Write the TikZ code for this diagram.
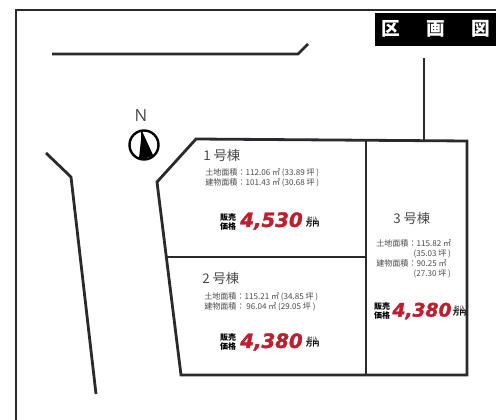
\documentclass[tikz,border=0pt]{standalone}
\usepackage{fontspec}
\setmainfont{Open Sans}
\newfontfamily\jp{Noto Sans CJK JP}
\newfontfamily\priceface[FakeBold=1.6]{DejaVu Sans Bold Oblique}
\definecolor{ink}{HTML}{2A2A2E}
\definecolor{txt}{HTML}{4A4A4A}
\definecolor{pricered}{HTML}{BE1E2D}
\tikzset{
  px/.style={x=0.75pt,y=-0.75pt},
  wall/.style={draw=ink,line width=2.1pt,line join=miter},
  road/.style={draw=ink,line width=2.1pt},
  plotname/.style={font=\jp\fontsize{10}{11}\selectfont,text=txt,inner sep=0pt,anchor=west},
  areatext/.style={font=\jp\fontsize{6.05}{7.6}\selectfont,text=txt,inner sep=0pt,anchor=west,align=left},
  price/.style={font=\priceface\fontsize{14.8}{16}\selectfont,text=pricered,inner sep=0pt},
  pricesmall/.style={font=\priceface\fontsize{14}{16}\selectfont,text=pricered,inner sep=0pt},
  sale/.style={font=\jp\bfseries\fontsize{6}{6.6}\selectfont,text=black,inner sep=0pt,align=center},
  unitb/.style={font=\jp\fontsize{4}{4.6}\selectfont,text=black,inner sep=0pt,align=center},
  title/.style={font=\jp\bfseries\fontsize{14}{16}\selectfont,text=white,inner sep=0pt},
}
\newcommand{\saletxt}{販売\\[-.5pt]価格}
\newcommand{\unittxt}{税込\\[-.5pt]{\fontsize{5}{5}\selectfont\bfseries 万円}}
\begin{document}
\begin{tikzpicture}[px]
\useasboundingbox (0,0) rectangle (496,420);
\fill[white] (0,0) rectangle (496,420);
% frame
\coordinate (fa) at (16,420); \coordinate (fb) at (16,10); \coordinate (fc) at (496,10);
\draw[ink,line width=1.7pt] (fa) -- (fb) -- (fc);
% title
\fill[black] (375,13) rectangle (496,46);
\node[title] (t1) at (391,29) {区};
\node[title] (t2) at (436,29) {画};
\node[title] (t3) at (481,29) {図};
% roads
\draw[road] (52,54) -- (298,54) -- (308,44);
\draw[road] (46,153) -- (71,177) -- (96,394);
\draw[road] (424,58) -- (424,140);
% plots
\draw[wall] (196,139) -- (467,141) -- (467,375) -- (181,375) -- (157,182) -- cycle;
\draw[wall] (366,140) -- (366,375);
\draw[wall] (166,257) -- (366,257);
% compass
\node[font=\fontsize{12.5}{14}\selectfont,text=txt,inner sep=0pt] (north) at (141,116) {N};
\draw[black,line width=1.8pt] (144,145) circle (14.5);
\draw[black,line width=.5pt] (141,131) -- (141,159);
\fill[black] (142,131) -- (153,155) .. controls (149,158) and (144,159) .. (139,158) -- cycle;
% plot 1
\node[plotname] (n1) at (203,155) {1 号棟};
\node[areatext] (a1) at (205,178) {土地面積：112.06 ㎡ (33.89 坪 )\\建物面積：101.43 ㎡ (30.68 坪 )};
\node[sale] (s1) at (228,222) {\saletxt};
\node[price] (p1) at (271.5,221) {4,530};
\node[unitb] (u1) at (312.5,222) {\unittxt};
% plot 2
\node[plotname] (n2) at (202,278) {2 号棟};
\node[areatext] (a2) at (204,302) {土地面積：115.21 ㎡ (34.85 坪 )\\建物面積：\ 96.04 ㎡ (29.05 坪 )};
\node[sale] (s2) at (228,342) {\saletxt};
\node[price] (p2) at (271.5,342) {4,380};
\node[unitb] (u2) at (312.5,342) {\unittxt};
% plot 3
\node[plotname] (n3) at (393,218) {3 号棟};
\node[areatext] (a3) at (376,259) {土地面積：115.82 ㎡\\\hspace*{56pt}\llap{(35.03 坪 )}\\建物面積：90.25 ㎡\\\hspace*{56pt}\llap{(27.30 坪 )}};
\node[sale] (s3) at (382,311) {\saletxt};
\node[pricesmall] (p3) at (422,311) {4,380};
\node[unitb] (u3) at (459.5,311) {\unittxt};
\end{tikzpicture}
\end{document}
